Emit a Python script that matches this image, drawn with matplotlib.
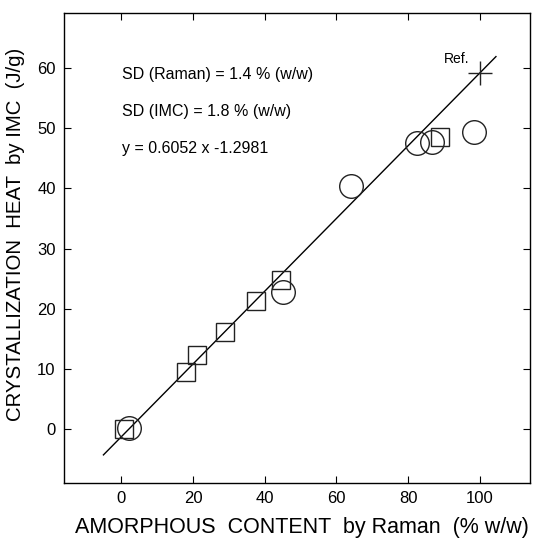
import matplotlib
matplotlib.use("Agg")
import matplotlib.pyplot as plt
import numpy as np

plt.rcParams['font.family'] = ['Liberation Sans', 'DejaVu Sans']

# Data
square_x = [0.8, 17.9, 21.2, 28.8, 37.6, 44.4, 89.0]
square_y = [0.0, 9.4, 12.3, 16.1, 21.3, 24.7, 48.6]
circle_x = [2.2, 45.1, 64.0, 82.4, 86.6, 98.3]
circle_y = [0.1, 22.7, 40.4, 47.5, 47.8, 49.4]
ref_x = [100]
ref_y = [59.2]
slope, intercept = 0.6052, -1.2981
fit_x = np.array([-5.0, 104.5])
xticks = [0, 20, 40, 60, 80, 100]
yticks = [0, 10, 20, 30, 40, 50, 60]
annotations = ["SD (Raman) = 1.4 % (w/w)", "SD (IMC) = 1.8 % (w/w)", "y = 0.6052 x -1.2981"]

fig = plt.figure(figsize=(5.33, 5.39), dpi=100)
ax = fig.add_axes([64/533, 1-483/539, (530-64)/533, (483-13)/539])

ax.plot(fit_x, slope*fit_x + intercept, color='black', lw=1.0)
ax.plot(square_x, square_y, ls='none', marker='s', ms=13.5, mfc='none', mec='#222222', mew=1.0)
ax.plot(circle_x, circle_y, ls='none', marker='o', ms=17, mfc='none', mec='#222222', mew=1.0)
ax.plot(ref_x, ref_y, ls='none', marker='+', ms=17, mec='#222222', mew=1.0)
ax.text(97, 60.3, "Ref.", fontsize=10, ha='right', va='bottom')

for txt, yy in zip(annotations, [58.9, 52.8, 46.7]):
    ax.text(0.2, yy, txt, fontsize=11.5, ha='left', va='center')

ax.set_xlim(-16, 114)
ax.set_ylim(-9, 69.2)
ax.set_xticks(xticks)
ax.set_yticks(yticks)
ax.tick_params(direction='in', top=True, right=True, labelsize=12, length=5, width=0.8, pad=6)
for s in ax.spines.values():
    s.set_linewidth(1.0)

ax.set_xlabel("AMORPHOUS  CONTENT  by Raman  (% w/w)", fontsize=15.5)
ax.xaxis.set_label_coords((302-64)/466, -0.072)
ax.set_ylabel("CRYSTALLIZATION  HEAT  by IMC  (J/g)", fontsize=14.7)
ax.yaxis.set_label_coords(-(64-25)/466, (483-234)/470)

fig.savefig("out.png", dpi=100)
